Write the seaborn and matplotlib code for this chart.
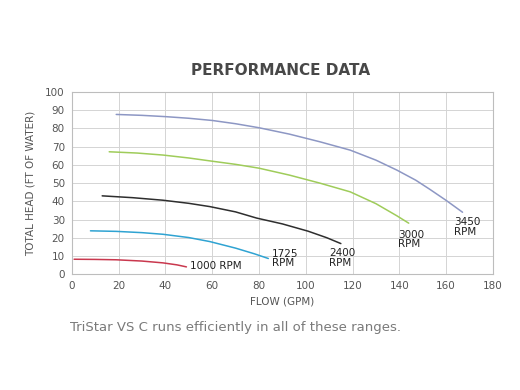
import matplotlib
matplotlib.use('Agg')
import matplotlib.pyplot as plt
import pandas as pd
import seaborn as sns

# Performance curves (flow in GPM, head in ft of water)
rpm_3450_x = [19, 30, 40, 50, 60, 70, 80, 93, 106, 119, 130, 139, 147, 153, 160, 167]
rpm_3450_y = [87.7, 87.2, 86.5, 85.6, 84.4, 82.6, 80.4, 76.9, 72.7, 68.1, 62.6, 57.1, 51.6, 46.6, 40.5, 34.0]
rpm_3000_x = [16, 28, 39, 50, 59, 70, 80, 93, 106, 119, 130, 139, 144]
rpm_3000_y = [67.2, 66.5, 65.4, 63.8, 62.2, 60.3, 58.2, 54.4, 50.0, 45.2, 38.7, 32.0, 28.0]
rpm_2400_x = [13, 26, 39, 50, 59, 70, 79, 90, 101, 109, 115]
rpm_2400_y = [43.0, 42.0, 40.6, 38.9, 37.1, 34.2, 30.8, 27.6, 23.6, 20.0, 16.8]
rpm_1725_x = [8, 19, 30, 39, 50, 59, 70, 78, 84]
rpm_1725_y = [23.8, 23.5, 22.8, 21.9, 20.1, 17.9, 14.3, 11.2, 8.6]
rpm_1000_x = [1, 10, 19, 30, 39, 45, 49]
rpm_1000_y = [8.2, 8.1, 7.9, 7.2, 6.2, 5.1, 4.0]

speeds = ['3450', '3000', '2400', '1725', '1000']
colors = ['#8d97c4', '#9fcc5a', '#2e2e2e', '#2fa3d2', '#c9384e']
label_x = [163.5, 139.5, 110, 85.5, 50.5]
label_y = [26, 19, 9, 8.5, 4.5]
label_text = ['3450\nRPM', '3000\nRPM', '2400\nRPM', '1725\nRPM', '1000 RPM']

frames = []
for rpm, xs, ys in zip(speeds,
                       [rpm_3450_x, rpm_3000_x, rpm_2400_x, rpm_1725_x, rpm_1000_x],
                       [rpm_3450_y, rpm_3000_y, rpm_2400_y, rpm_1725_y, rpm_1000_y]):
    frames.append(pd.DataFrame({'flow': xs, 'head': ys, 'rpm': rpm}))
df = pd.concat(frames, ignore_index=True)

sns.set_style('white')
plt.rcParams['font.family'] = ['DejaVu Sans']

fig = plt.figure(figsize=(5.2, 3.9), dpi=100)
ax = fig.add_axes([0.138, 0.297, 0.81, 0.467])

sns.lineplot(data=df, x='flow', y='head', hue='rpm', palette=dict(zip(speeds, colors)),
             linewidth=1.1, legend=False, ax=ax, sort=False, estimator=None)

for tx, ty, txt in zip(label_x, label_y, label_text):
    ax.text(tx, ty, txt, fontsize=7.5, color='#222222', ha='left', va='center',
            linespacing=0.95)

ax.set_xlim(0, 180)
ax.set_ylim(0, 100)
ax.set_xticks(range(0, 181, 20))
ax.set_yticks(range(0, 101, 10))
ax.grid(True, color='#d4d4d4', linewidth=0.7)
ax.set_axisbelow(True)
for s in ax.spines.values():
    s.set_color('#bdbdbd')
    s.set_linewidth(0.8)
ax.tick_params(axis='both', labelsize=7.5, colors='#bdbdbd', labelcolor='#555555',
               length=3, width=0.6, pad=2)
ax.set_xlabel('FLOW (GPM)', fontsize=7.5, color='#555555', labelpad=4)
ax.set_ylabel('TOTAL HEAD (FT OF WATER)', fontsize=7.5, color='#555555', labelpad=7)

fig.text(0.54, 0.82, 'PERFORMANCE DATA', fontsize=11, color='#484848',
         ha='center', va='center', weight='bold')
fig.text(0.135, 0.16, 'TriStar VS C runs efficiently in all of these ranges.',
         fontsize=9.5, color='#7a7a7a', ha='left', va='center')

fig.savefig('out.png', dpi=100)
